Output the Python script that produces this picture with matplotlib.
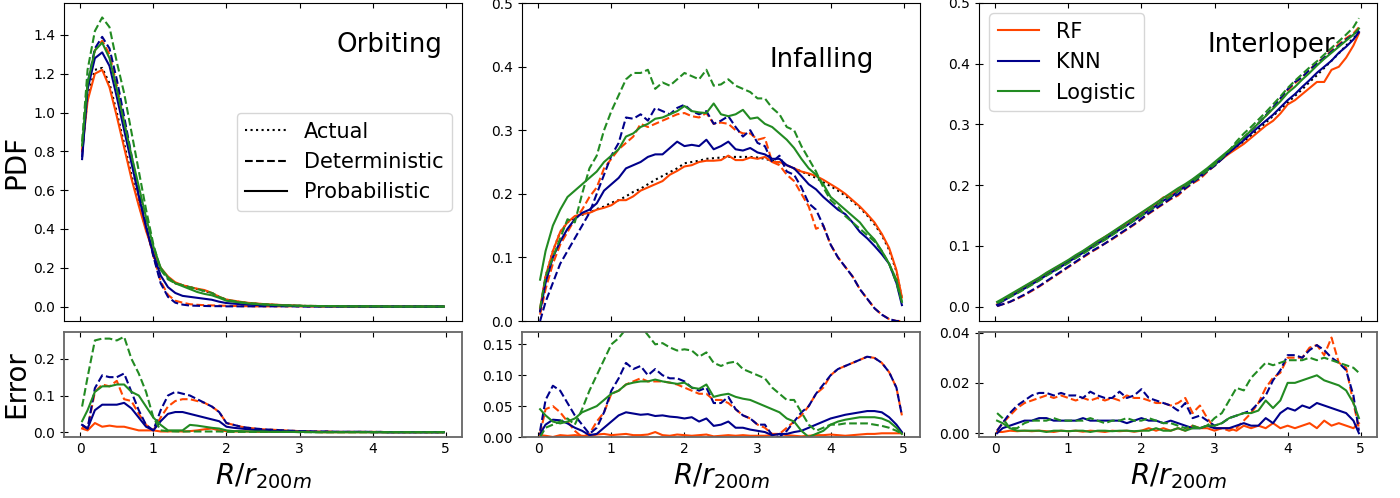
import matplotlib
matplotlib.use("Agg")
import matplotlib.pyplot as plt
from matplotlib.lines import Line2D

# bin centres in R/r200m
R = [0.025] + [round(0.1 * i, 1) for i in range(1, 50)] + [4.975]

models = ["RF", "KNN", "Logistic"]
colors = ["#FF4500", "#00008B", "#228B22"]

#################### ORBITING ####################
orb_actual = [0.80, 1.08, 1.22, 1.23, 1.15, 1.00, 0.84, 0.68, 0.53, 0.40,
              0.28, 0.19, 0.15, 0.12, 0.11, 0.10, 0.09, 0.08, 0.07, 0.05,
              0.035, 0.028, 0.022, 0.018, 0.015, 0.012, 0.010, 0.008, 0.006, 0.005,
              0.004, 0.003, 0.003, 0.002, 0.002, 0.002, 0.001, 0.001, 0.001, 0.001,
              0.001, 0.001, 0, 0, 0, 0, 0, 0, 0, 0, 0]
orb_rf_det = [0.80, 1.13, 1.32, 1.37, 1.30, 1.14, 0.95, 0.76, 0.57, 0.41,
              0.26, 0.13, 0.06, 0.03, 0.02, 0.012, 0.009, 0.007, 0.006, 0.005,
              0.004, 0.003, 0.002, 0.002, 0.001, 0.001, 0.001, 0.001, 0.001, 0.001,
              0.001, 0, 0, 0, 0, 0, 0, 0, 0, 0,
              0, 0, 0, 0, 0, 0, 0, 0, 0, 0, 0]
orb_knn_det = [0.77, 1.15, 1.33, 1.39, 1.33, 1.17, 0.98, 0.78, 0.59, 0.42,
               0.26, 0.12, 0.05, 0.02, 0.01, 0.005, 0.004, 0.003, 0.002, 0.002,
               0.001, 0.001, 0.001, 0.001, 0.001, 0.001, 0.001, 0.001, 0.001, 0.001,
               0, 0, 0, 0, 0, 0, 0, 0, 0, 0,
               0, 0, 0, 0, 0, 0, 0, 0, 0, 0, 0]
orb_lr_det = [0.85, 1.22, 1.42, 1.49, 1.44, 1.26, 1.10, 0.90, 0.70, 0.50,
              0.32, 0.19, 0.14, 0.12, 0.11, 0.10, 0.09, 0.08, 0.07, 0.05,
              0.035, 0.028, 0.022, 0.018, 0.015, 0.012, 0.010, 0.008, 0.006, 0.005,
              0.004, 0.003, 0.003, 0.002, 0.002, 0.002, 0.001, 0.001, 0.001, 0.001,
              0.001, 0.001, 0, 0, 0, 0, 0, 0, 0, 0, 0]
orb_rf_prob = [0.80, 1.06, 1.20, 1.22, 1.13, 0.98, 0.82, 0.66, 0.52, 0.39,
               0.28, 0.20, 0.155, 0.125, 0.11, 0.10, 0.092, 0.085, 0.07, 0.05,
               0.036, 0.03, 0.024, 0.019, 0.016, 0.013, 0.011, 0.009, 0.007, 0.006,
               0.004, 0.003, 0.003, 0.002, 0.002, 0.002, 0.001, 0.001, 0.001, 0.001,
               0.001, 0.001, 0, 0, 0, 0, 0, 0, 0, 0, 0]
orb_knn_prob = [0.76, 1.12, 1.28, 1.31, 1.24, 1.08, 0.91, 0.74, 0.57, 0.41,
                0.27, 0.16, 0.10, 0.07, 0.055, 0.05, 0.045, 0.04, 0.035, 0.025,
                0.018, 0.015, 0.012, 0.01, 0.008, 0.007, 0.006, 0.005, 0.004, 0.003,
                0.003, 0.002, 0.002, 0.002, 0.001, 0.001, 0.001, 0.001, 0.001, 0.001,
                0, 0, 0, 0, 0, 0, 0, 0, 0, 0, 0]
orb_lr_prob = [0.83, 1.15, 1.32, 1.36, 1.28, 1.12, 0.95, 0.78, 0.62, 0.46,
               0.31, 0.20, 0.15, 0.12, 0.105, 0.09, 0.075, 0.065, 0.058, 0.045,
               0.03, 0.025, 0.02, 0.016, 0.013, 0.011, 0.009, 0.007, 0.006, 0.005,
               0.004, 0.003, 0.003, 0.002, 0.002, 0.002, 0.001, 0.001, 0.001, 0.001,
               0.001, 0.001, 0, 0, 0, 0, 0, 0, 0, 0, 0]

orb_err_rf_det = [0.015, 0.01, 0.11, 0.13, 0.125, 0.14, 0.09, 0.085, 0.05, 0.02,
                  0.005, 0.04, 0.07, 0.085, 0.09, 0.09, 0.085, 0.08, 0.07, 0.055,
                  0.025, 0.02, 0.015, 0.012, 0.01, 0.008, 0.007, 0.006, 0.005, 0.004,
                  0.003, 0.003, 0.002, 0.002, 0.002, 0.001, 0.001, 0.001, 0.001, 0.001,
                  0.001, 0.001, 0, 0, 0, 0, 0, 0, 0, 0, 0]
orb_err_knn_det = [0.02, 0.01, 0.12, 0.155, 0.15, 0.15, 0.16, 0.11, 0.06, 0.02,
                   0.005, 0.06, 0.10, 0.11, 0.105, 0.10, 0.09, 0.08, 0.07, 0.055,
                   0.025, 0.02, 0.015, 0.012, 0.01, 0.008, 0.007, 0.006, 0.005, 0.004,
                   0.003, 0.003, 0.002, 0.002, 0.002, 0.001, 0.001, 0.001, 0.001, 0.001,
                   0.001, 0.001, 0, 0, 0, 0, 0, 0, 0, 0, 0]
orb_err_lr_det = [0.07, 0.15, 0.25, 0.255, 0.255, 0.25, 0.26, 0.20, 0.16, 0.11,
                  0.04, 0.005, 0.003, 0.002, 0.002, 0.002, 0.002, 0.002, 0.002, 0.002,
                  0.001, 0.001, 0.001, 0.001, 0.001, 0.001, 0.001, 0.001, 0.001, 0.001,
                  0, 0, 0, 0, 0, 0, 0, 0, 0, 0,
                  0, 0, 0, 0, 0, 0, 0, 0, 0, 0, 0]
orb_err_rf_prob = [0.01, 0.005, 0.025, 0.015, 0.018, 0.015, 0.015, 0.01, 0.005, 0.005,
                   0.005, 0.002, 0.002, 0.003, 0.002, 0.003, 0.005, 0.008, 0.01, 0.005,
                   0.003, 0.002, 0.002, 0.002, 0.001, 0.001, 0.001, 0.001, 0.001, 0.001,
                   0.001, 0.001, 0.001, 0, 0, 0, 0, 0, 0, 0,
                   0, 0, 0, 0, 0, 0, 0, 0, 0, 0, 0]
orb_err_knn_prob = [0.02, 0.01, 0.06, 0.075, 0.075, 0.075, 0.08, 0.065, 0.04, 0.015,
                    0.005, 0.03, 0.05, 0.055, 0.055, 0.05, 0.045, 0.04, 0.035, 0.03,
                    0.015, 0.012, 0.01, 0.008, 0.006, 0.005, 0.004, 0.003, 0.003, 0.002,
                    0.002, 0.002, 0.001, 0.001, 0.001, 0.001, 0.001, 0.001, 0.001, 0.001,
                    0, 0, 0, 0, 0, 0, 0, 0, 0, 0, 0]
orb_err_lr_prob = [0.03, 0.06, 0.11, 0.125, 0.125, 0.13, 0.13, 0.11, 0.10, 0.07,
                   0.04, 0.02, 0.005, 0.005, 0.005, 0.02, 0.018, 0.015, 0.012, 0.01,
                   0.005, 0.003, 0.003, 0.002, 0.002, 0.002, 0.001, 0.001, 0.001, 0.001,
                   0.001, 0.001, 0, 0, 0, 0, 0, 0, 0, 0,
                   0, 0, 0, 0, 0, 0, 0, 0, 0, 0, 0]

#################### INFALLING ####################
inf_actual = [0.015, 0.07, 0.11, 0.14, 0.155, 0.163, 0.167, 0.17, 0.176, 0.18,
              0.186, 0.19, 0.196, 0.203, 0.208, 0.215, 0.222, 0.228, 0.234, 0.24,
              0.248, 0.25, 0.252, 0.255, 0.256, 0.257, 0.258, 0.258, 0.258, 0.258,
              0.257, 0.255, 0.252, 0.249, 0.245, 0.24, 0.235, 0.23, 0.225, 0.218,
              0.212, 0.205, 0.197, 0.188, 0.178, 0.166, 0.152, 0.135, 0.112, 0.078, 0.035]
inf_rf_det = [0.01, 0.05, 0.09, 0.12, 0.14, 0.16, 0.175, 0.195, 0.21, 0.24,
              0.255, 0.27, 0.28, 0.29, 0.31, 0.305, 0.31, 0.315, 0.32, 0.325,
              0.327, 0.322, 0.32, 0.327, 0.31, 0.312, 0.31, 0.3, 0.295, 0.295,
              0.285, 0.288, 0.25, 0.245, 0.23, 0.22, 0.2, 0.18, 0.145, 0.15,
              0.12, 0.1, 0.085, 0.07, 0.05, 0.035, 0.02, 0.01, 0.003, 0.0, 0.0]
inf_knn_det = [0.0, 0.03, 0.06, 0.09, 0.11, 0.13, 0.15, 0.17, 0.2, 0.23,
               0.26, 0.28, 0.32, 0.318, 0.325, 0.315, 0.335, 0.33, 0.325, 0.335,
               0.34, 0.33, 0.325, 0.33, 0.31, 0.315, 0.322, 0.305, 0.29, 0.3,
               0.28, 0.275, 0.25, 0.26, 0.235, 0.23, 0.21, 0.185, 0.175, 0.15,
               0.12, 0.1, 0.085, 0.07, 0.05, 0.035, 0.02, 0.01, 0.003, 0.0, 0.0]
inf_lr_det = [0.02, 0.07, 0.1, 0.13, 0.16, 0.155, 0.2, 0.24, 0.26, 0.3,
              0.33, 0.355, 0.38, 0.39, 0.39, 0.395, 0.365, 0.375, 0.37, 0.38,
              0.39, 0.385, 0.38, 0.395, 0.37, 0.372, 0.38, 0.37, 0.365, 0.36,
              0.35, 0.35, 0.335, 0.325, 0.305, 0.3, 0.275, 0.255, 0.235, 0.21,
              0.19, 0.18, 0.165, 0.155, 0.145, 0.135, 0.125, 0.11, 0.09, 0.06, 0.03]
inf_rf_prob = [0.02, 0.07, 0.11, 0.14, 0.155, 0.165, 0.168, 0.17, 0.175, 0.178,
               0.182, 0.19, 0.19, 0.196, 0.205, 0.21, 0.215, 0.22, 0.23, 0.236,
               0.243, 0.245, 0.25, 0.252, 0.252, 0.253, 0.26, 0.253, 0.253, 0.257,
               0.255, 0.258, 0.25, 0.25, 0.245, 0.24, 0.235, 0.232, 0.228, 0.222,
               0.215, 0.208, 0.2, 0.19, 0.18, 0.168, 0.155, 0.137, 0.115, 0.08, 0.037]
inf_knn_prob = [0.015, 0.06, 0.1, 0.125, 0.145, 0.16, 0.17, 0.175, 0.185, 0.205,
                0.215, 0.225, 0.24, 0.245, 0.25, 0.258, 0.262, 0.262, 0.272, 0.282,
                0.275, 0.277, 0.275, 0.285, 0.27, 0.275, 0.282, 0.27, 0.268, 0.272,
                0.265, 0.262, 0.255, 0.255, 0.245, 0.24, 0.228, 0.215, 0.207, 0.195,
                0.185, 0.175, 0.168, 0.155, 0.14, 0.13, 0.118, 0.105, 0.09, 0.06, 0.025]
inf_lr_prob = [0.065, 0.11, 0.15, 0.175, 0.195, 0.205, 0.215, 0.225, 0.235, 0.25,
               0.26, 0.27, 0.29, 0.295, 0.305, 0.31, 0.318, 0.32, 0.325, 0.33,
               0.338, 0.33, 0.328, 0.327, 0.342, 0.325, 0.322, 0.325, 0.332, 0.318,
               0.32, 0.31, 0.305, 0.295, 0.285, 0.272, 0.255, 0.24, 0.23, 0.215,
               0.195, 0.185, 0.175, 0.165, 0.155, 0.14, 0.128, 0.11, 0.09, 0.065, 0.03]

inf_err_rf_det = [0.005, 0.045, 0.05, 0.04, 0.025, 0.01, 0.0, 0.005, 0.025, 0.04,
                  0.07, 0.075, 0.085, 0.09, 0.095, 0.09, 0.09, 0.09, 0.088, 0.085,
                  0.08, 0.075, 0.07, 0.07, 0.06, 0.06, 0.055, 0.045, 0.035, 0.03,
                  0.02, 0.015, 0.005, 0.005, 0.015, 0.025, 0.035, 0.05, 0.07, 0.08,
                  0.1, 0.11, 0.115, 0.12, 0.125, 0.13, 0.128, 0.12, 0.105, 0.08, 0.035]
inf_err_knn_det = [0.01, 0.06, 0.083, 0.075, 0.055, 0.035, 0.02, 0.005, 0.015, 0.04,
                   0.075, 0.095, 0.12, 0.11, 0.115, 0.1, 0.11, 0.1, 0.095, 0.095,
                   0.09, 0.08, 0.075, 0.08, 0.055, 0.055, 0.065, 0.045, 0.035, 0.03,
                   0.02, 0.02, 0.003, 0.0, 0.01, 0.025, 0.04, 0.05, 0.07, 0.085,
                   0.1, 0.11, 0.115, 0.12, 0.125, 0.13, 0.128, 0.12, 0.105, 0.08, 0.035]
inf_err_lr_det = [0.0, 0.015, 0.02, 0.025, 0.03, 0.02, 0.045, 0.075, 0.1, 0.125,
                  0.15, 0.16, 0.175, 0.18, 0.18, 0.165, 0.15, 0.152, 0.145, 0.14,
                  0.142, 0.14, 0.13, 0.137, 0.12, 0.115, 0.12, 0.122, 0.11, 0.105,
                  0.1, 0.095, 0.08, 0.07, 0.06, 0.06, 0.04, 0.02, 0.01, 0.015,
                  0.02, 0.02, 0.022, 0.022, 0.022, 0.022, 0.02, 0.018, 0.015, 0.01, 0.005]
inf_err_rf_prob = [0.003, 0.002, 0.0, 0.003, 0.002, 0.003, 0.002, 0.001, 0.004, 0.005,
                   0.003, 0.004, 0.005, 0.003, 0.003, 0.004, 0.008, 0.003, 0.002, 0.004,
                   0.003, 0.002, 0.003, 0.004, 0.001, 0.002, 0.003, 0.002, 0.003, 0.002,
                   0.002, 0.002, 0.003, 0.005, 0.003, 0.002, 0.001, 0.002, 0.003, 0.003,
                   0.004, 0.003, 0.002, 0.003, 0.004, 0.005, 0.005, 0.006, 0.006, 0.006, 0.006]
inf_err_knn_prob = [0.005, 0.02, 0.028, 0.027, 0.022, 0.015, 0.01, 0.003, 0.005, 0.015,
                    0.025, 0.035, 0.04, 0.038, 0.036, 0.037, 0.034, 0.035, 0.033, 0.032,
                    0.03, 0.032, 0.025, 0.03, 0.018, 0.02, 0.025, 0.015, 0.015, 0.012,
                    0.01, 0.008, 0.003, 0.005, 0.005, 0.008, 0.01, 0.015, 0.02, 0.025,
                    0.03, 0.033, 0.036, 0.038, 0.04, 0.042, 0.042, 0.04, 0.032, 0.02, 0.008]
inf_err_lr_prob = [0.045, 0.035, 0.025, 0.022, 0.025, 0.03, 0.04, 0.045, 0.05, 0.06,
                   0.07, 0.075, 0.085, 0.088, 0.09, 0.09, 0.093, 0.09, 0.088, 0.086,
                   0.088, 0.08, 0.078, 0.085, 0.065, 0.068, 0.07, 0.065, 0.062, 0.06,
                   0.055, 0.05, 0.045, 0.04, 0.03, 0.025, 0.01, 0.0, 0.005, 0.01,
                   0.02, 0.025, 0.028, 0.03, 0.032, 0.032, 0.032, 0.03, 0.025, 0.015, 0.005]

#################### INTERLOPER ####################
int_actual = [0.005, 0.01, 0.017, 0.024, 0.031, 0.038, 0.045, 0.053, 0.06, 0.067,
              0.075, 0.082, 0.09, 0.097, 0.105, 0.113, 0.12, 0.128, 0.136, 0.144,
              0.152, 0.16, 0.168, 0.176, 0.184, 0.193, 0.2, 0.208, 0.217, 0.226,
              0.235, 0.245, 0.254, 0.263, 0.272, 0.282, 0.292, 0.303, 0.314, 0.325,
              0.336, 0.347, 0.358, 0.37, 0.381, 0.393, 0.405, 0.417, 0.43, 0.442, 0.452]
int_rf_det = [0.001, 0.004, 0.008, 0.013, 0.019, 0.026, 0.033, 0.041, 0.049, 0.057,
              0.065, 0.073, 0.081, 0.089, 0.096, 0.104, 0.111, 0.119, 0.127, 0.135,
              0.144, 0.153, 0.161, 0.169, 0.177, 0.183, 0.194, 0.203, 0.21, 0.222,
              0.232, 0.243, 0.255, 0.266, 0.278, 0.29, 0.302, 0.314, 0.327, 0.342,
              0.356, 0.368, 0.378, 0.39, 0.402, 0.41, 0.422, 0.432, 0.442, 0.45, 0.46]
int_knn_det = [0.001, 0.004, 0.008, 0.014, 0.02, 0.027, 0.034, 0.042, 0.05, 0.058,
               0.066, 0.074, 0.082, 0.09, 0.097, 0.104, 0.112, 0.12, 0.128, 0.136,
               0.145, 0.154, 0.162, 0.17, 0.178, 0.185, 0.195, 0.204, 0.213, 0.223,
               0.232, 0.243, 0.255, 0.266, 0.278, 0.29, 0.302, 0.315, 0.328, 0.343,
               0.358, 0.37, 0.378, 0.39, 0.4, 0.41, 0.42, 0.43, 0.44, 0.448, 0.455]
int_lr_det = [0.006, 0.01, 0.016, 0.022, 0.029, 0.036, 0.043, 0.051, 0.058, 0.065,
              0.072, 0.08, 0.087, 0.095, 0.103, 0.11, 0.118, 0.126, 0.134, 0.142,
              0.15, 0.158, 0.166, 0.174, 0.182, 0.19, 0.198, 0.206, 0.215, 0.224,
              0.234, 0.245, 0.257, 0.272, 0.285, 0.296, 0.308, 0.32, 0.333, 0.346,
              0.36, 0.372, 0.383, 0.394, 0.404, 0.415, 0.426, 0.437, 0.448, 0.46, 0.475]
int_rf_prob = [0.004, 0.011, 0.018, 0.026, 0.033, 0.04, 0.047, 0.055, 0.062, 0.069,
               0.076, 0.083, 0.091, 0.099, 0.107, 0.115, 0.122, 0.13, 0.138, 0.146,
               0.154, 0.162, 0.17, 0.18, 0.183, 0.193, 0.2, 0.209, 0.217, 0.226,
               0.235, 0.243, 0.252, 0.26, 0.268, 0.278, 0.288, 0.298, 0.306, 0.318,
               0.333, 0.34, 0.35, 0.36, 0.37, 0.37, 0.39, 0.395, 0.41, 0.43, 0.45]
int_knn_prob = [0.003, 0.009, 0.016, 0.023, 0.03, 0.037, 0.044, 0.052, 0.059, 0.066,
                0.074, 0.081, 0.089, 0.096, 0.104, 0.111, 0.119, 0.127, 0.134, 0.142,
                0.15, 0.158, 0.166, 0.175, 0.18, 0.19, 0.198, 0.207, 0.216, 0.225,
                0.233, 0.244, 0.254, 0.264, 0.274, 0.285, 0.296, 0.306, 0.316, 0.328,
                0.34, 0.35, 0.362, 0.373, 0.385, 0.395, 0.405, 0.418, 0.428, 0.44, 0.452]
int_lr_prob = [0.008, 0.013, 0.02, 0.027, 0.034, 0.041, 0.048, 0.056, 0.063, 0.07,
               0.077, 0.085, 0.092, 0.1, 0.108, 0.115, 0.123, 0.131, 0.139, 0.147,
               0.155, 0.163, 0.171, 0.179, 0.187, 0.195, 0.202, 0.21, 0.219, 0.228,
               0.238, 0.248, 0.258, 0.268, 0.279, 0.29, 0.302, 0.314, 0.326, 0.338,
               0.352, 0.362, 0.374, 0.385, 0.397, 0.408, 0.418, 0.428, 0.438, 0.448, 0.458]

int_err_rf_det = [0.001, 0.004, 0.007, 0.01, 0.012, 0.013, 0.014, 0.015, 0.014, 0.015,
                  0.014, 0.013, 0.014, 0.013, 0.014, 0.013, 0.014, 0.013, 0.015, 0.014,
                  0.014, 0.013, 0.012, 0.012, 0.011, 0.012, 0.014, 0.008, 0.011, 0.006,
                  0.002, 0.002, 0.001, 0.002, 0.005, 0.008, 0.012, 0.018, 0.022, 0.024,
                  0.03, 0.03, 0.03, 0.034, 0.035, 0.031, 0.038, 0.028, 0.026, 0.012, 0.002]
int_err_knn_det = [0.001, 0.004, 0.008, 0.011, 0.013, 0.015, 0.016, 0.016, 0.015, 0.016,
                   0.015, 0.015, 0.014, 0.0165, 0.015, 0.014, 0.014, 0.0165, 0.014, 0.015,
                   0.0175, 0.014, 0.013, 0.012, 0.011, 0.009, 0.012, 0.006, 0.007, 0.005,
                   0.003, 0.004, 0.006, 0.007, 0.008, 0.009, 0.012, 0.015, 0.021, 0.025,
                   0.031, 0.031, 0.03, 0.033, 0.035, 0.033, 0.03, 0.028, 0.025, 0.015, 0.001]
int_err_lr_det = [0.008, 0.006, 0.002, 0.002, 0.004, 0.005, 0.005, 0.005, 0.006, 0.005,
                  0.005, 0.005, 0.005, 0.006, 0.005, 0.004, 0.005, 0.005, 0.006, 0.005,
                  0.005, 0.006, 0.005, 0.004, 0.004, 0.003, 0.002, 0.003, 0.002, 0.003,
                  0.006, 0.008, 0.013, 0.018, 0.017, 0.022, 0.025, 0.028, 0.027, 0.028,
                  0.029, 0.029, 0.029, 0.03, 0.029, 0.03, 0.029, 0.028, 0.027, 0.026, 0.024]
int_err_rf_prob = [0.0005, 0.0005, 0.001, 0.0008, 0.001, 0.0008, 0.001, 0.0008, 0.0005, 0.001,
                   0.0008, 0.001, 0.0006, 0.001, 0.0008, 0.0005, 0.001, 0.0008, 0.001, 0.0006,
                   0.001, 0.002, 0.001, 0.002, 0.001, 0.002, 0.001, 0.003, 0.002, 0.002,
                   0.001, 0.002, 0.002, 0.001, 0.003, 0.002, 0.003, 0.002, 0.004, 0.002,
                   0.003, 0.002, 0.003, 0.004, 0.002, 0.005, 0.003, 0.004, 0.003, 0.002, 0.004]
int_err_knn_prob = [0.0, 0.002, 0.003, 0.004, 0.005, 0.005, 0.006, 0.006, 0.005, 0.005,
                    0.005, 0.005, 0.006, 0.005, 0.005, 0.005, 0.005, 0.005, 0.004, 0.005,
                    0.006, 0.005, 0.005, 0.004, 0.005, 0.004, 0.003, 0.002, 0.002, 0.003,
                    0.002, 0.002, 0.002, 0.003, 0.004, 0.003, 0.003, 0.006, 0.004, 0.008,
                    0.01, 0.009, 0.011, 0.01, 0.012, 0.011, 0.01, 0.009, 0.008, 0.005, 0.0]
int_err_lr_prob = [0.005, 0.004, 0.002, 0.001, 0.001, 0.001, 0.001, 0.0005, 0.001, 0.001,
                   0.0008, 0.001, 0.001, 0.0005, 0.001, 0.001, 0.0008, 0.001, 0.001, 0.0008,
                   0.001, 0.001, 0.002, 0.001, 0.001, 0.002, 0.001, 0.002, 0.002, 0.003,
                   0.003, 0.004, 0.006, 0.007, 0.008, 0.008, 0.009, 0.013, 0.01, 0.013,
                   0.02, 0.02, 0.021, 0.022, 0.023, 0.021, 0.02, 0.019, 0.017, 0.012, 0.006]

titles = ["Orbiting", "Infalling", "Interloper"]
actuals = [orb_actual, inf_actual, int_actual]
dets = [[orb_rf_det, orb_knn_det, orb_lr_det],
        [inf_rf_det, inf_knn_det, inf_lr_det],
        [int_rf_det, int_knn_det, int_lr_det]]
probs = [[orb_rf_prob, orb_knn_prob, orb_lr_prob],
         [inf_rf_prob, inf_knn_prob, inf_lr_prob],
         [int_rf_prob, int_knn_prob, int_lr_prob]]
err_dets = [[orb_err_rf_det, orb_err_knn_det, orb_err_lr_det],
            [inf_err_rf_det, inf_err_knn_det, inf_err_lr_det],
            [int_err_rf_det, int_err_knn_det, int_err_lr_det]]
err_probs = [[orb_err_rf_prob, orb_err_knn_prob, orb_err_lr_prob],
             [inf_err_rf_prob, inf_err_knn_prob, inf_err_lr_prob],
             [int_err_rf_prob, int_err_knn_prob, int_err_lr_prob]]

plt.rcParams['font.family'] = 'DejaVu Sans'
plt.rcParams['xtick.labelsize'] = 10
plt.rcParams['ytick.labelsize'] = 10

fig = plt.figure(figsize=(14, 4.98), dpi=100)

lefts = [64 / 1400, 522 / 1400, 979 / 1400]
width = 398 / 1400
top_box = (177 / 498, 318 / 498)
bot_box = (61 / 498, 105 / 498)

# where the panel name sits (axes fraction)
title_pos = [(0.95, 0.845), (0.885, 0.80), (0.895, 0.845)]

top_axes = []
bot_axes = []
for i in range(3):
    ax = fig.add_axes([lefts[i], top_box[0], width, top_box[1]])
    axb = fig.add_axes([lefts[i], bot_box[0], width, bot_box[1]], sharex=ax)
    top_axes.append(ax)
    bot_axes.append(axb)

    ax.plot(R, actuals[i], color="k", linestyle=":", linewidth=1.5)
    for m in range(3):
        ax.plot(R, dets[i][m], color=colors[m], linestyle="--", linewidth=1.5)
        ax.plot(R, probs[i][m], color=colors[m], linestyle="-", linewidth=1.5)
        axb.plot(R, err_dets[i][m], color=colors[m], linestyle="--", linewidth=1.5)
        axb.plot(R, err_probs[i][m], color=colors[m], linestyle="-", linewidth=1.5)

    ax.text(title_pos[i][0], title_pos[i][1], titles[i], transform=ax.transAxes,
            ha="right", va="baseline", fontsize=18.7)

    for a in (ax, axb):
        a.tick_params(axis="x", direction="in", top=True)
        a.tick_params(axis="y", direction="inout", length=6, right=False)
    ax.tick_params(labelbottom=False)
    for s in axb.spines.values():
        s.set_color("#666666")
        s.set_linewidth(1.3)
    axb.set_xticks([0, 1, 2, 3, 4, 5])
    axb.set_xlabel("$R/r_{200m}$", fontsize=20)

top_axes[0].set_ylabel("PDF", fontsize=20, labelpad=2)
bot_axes[0].set_ylabel("Error", fontsize=20, labelpad=2)

top_axes[1].set_ylim(0, 0.5)
top_axes[2].set_ylim(-0.0235, 0.5)
bot_axes[1].set_ylim(0, 0.17)
bot_axes[2].set_ylim(-0.0015, 0.0402)
bot_axes[1].set_yticks([0.0, 0.05, 0.10, 0.15])
bot_axes[2].set_yticks([0.0, 0.02, 0.04])

style_handles = [Line2D([], [], color="k", linestyle=":", linewidth=1.5),
                 Line2D([], [], color="k", linestyle="--", linewidth=1.5),
                 Line2D([], [], color="k", linestyle="-", linewidth=1.5)]
top_axes[0].legend(style_handles, ["Actual", "Deterministic", "Probabilistic"],
                   loc="center right", fontsize=15)

model_handles = [Line2D([], [], color=c, linewidth=1.5) for c in colors]
top_axes[2].legend(model_handles, models, loc="upper left", fontsize=15)

fig.savefig("out.png", dpi=100)
